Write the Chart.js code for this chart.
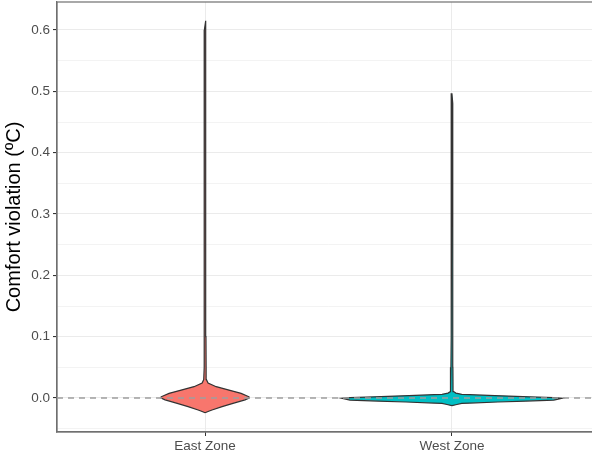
<!DOCTYPE html>
<html>
<head>
<meta charset="utf-8">
<script src="https://cdn.jsdelivr.net/npm/chart.js@4.4.1/dist/chart.umd.min.js"></script>
<style>
  html, body { margin: 0; padding: 0; background: #fff; overflow: hidden; width: 592px; height: 457px; }
  #wrap { position: relative; width: 601px; height: 457px; }
</style>
</head>
<body>
<div id="wrap"><canvas id="violinChart"></canvas></div>
<script>
// categories
const zones = ['East Zone', 'West Zone'];
const zoneColors = ['#F8766D', '#00BFC4'];

// violin outline: y value and half width (in category units)
const eastY  = [-0.024, -0.022, -0.0196, -0.0141, -0.0087, -0.003, 0.0, 0.002, 0.0076, 0.013, 0.0185, 0.0245, 0.03, 0.05, 0.1, 0.2, 0.3, 0.4, 0.5, 0.6, 0.615];
const eastHW = [0, 0.012, 0.028, 0.069, 0.113, 0.162, 0.178, 0.178, 0.146, 0.097, 0.045, 0.012, 0.0055, 0.0042, 0.0036, 0.0035, 0.0035, 0.0035, 0.0033, 0.003, 0];

const westY  = [-0.0125, -0.0106, -0.0087, -0.0082, -0.0065, -0.0049, -0.0033, -0.0005, 0.0005, 0.002, 0.004, 0.0055, 0.006, 0.008, 0.0105, 0.02, 0.05, 0.1, 0.2, 0.3, 0.4, 0.48, 0.497];
const westHW = [0, 0.020, 0.040, 0.073, 0.186, 0.300, 0.413, 0.445, 0.413, 0.316, 0.174, 0.073, 0.040, 0.016, 0.007, 0.0045, 0.004, 0.0036, 0.0035, 0.0035, 0.0034, 0.003, 0];

// y ticks (major every 0.1, minor every 0.05)
const yTicks = [-0.05, 0, 0.05, 0.1, 0.15, 0.2, 0.25, 0.3, 0.35, 0.4, 0.45, 0.5, 0.55, 0.6];

function violinPoints(center, ys, hws) {
    const pts = [];
    for (let i = 0; i < ys.length; i++) pts.push({ x: center + hws[i], y: ys[i] });
    for (let i = ys.length - 1; i >= 0; i--) pts.push({ x: center - hws[i], y: ys[i] });
    return pts;
}

const isMajor = v => Math.abs(v * 10 - Math.round(v * 10)) < 1e-6;

// panel border (right side falls outside the window, as in the original)
const panelBorder = {
    id: 'panelBorder',
    beforeDatasetsDraw(chart) {
        const a = chart.chartArea, c = chart.ctx;
        c.save();
        c.strokeStyle = '#707070';
        c.lineWidth = 1.2;
        c.strokeRect(a.left, a.top, a.right - a.left, a.bottom - a.top);
        c.restore();
    }
};

const ctx = document.getElementById('violinChart').getContext('2d');
new Chart(ctx, {
    type: 'scatter',
    data: {
        datasets: [
            {
                // dashed zero line
                data: [{ x: 0.4, y: 0 }, { x: 2.6, y: 0 }],
                showLine: true,
                borderColor: '#9e9e9e',
                borderWidth: 1.3,
                borderDash: [6, 5],
                pointRadius: 0,
                fill: false
            },
            {
                label: zones[0],
                data: violinPoints(1, eastY, eastHW),
                showLine: true,
                borderColor: '#333333',
                borderWidth: 1.2,
                backgroundColor: zoneColors[0],
                pointRadius: 0,
                fill: 'shape',
                tension: 0
            },
            {
                label: zones[1],
                data: violinPoints(2, westY, westHW),
                showLine: true,
                borderColor: '#333333',
                borderWidth: 1.2,
                backgroundColor: zoneColors[1],
                pointRadius: 0,
                fill: 'shape',
                tension: 0
            }
        ]
    },
    options: {
        responsive: true,
        maintainAspectRatio: false,
        animation: false,
        layout: { padding: { top: 2, right: 1, left: 0, bottom: 0 } },
        plugins: {
            legend: { display: false },
            tooltip: { enabled: false }
        },
        scales: {
            x: {
                type: 'linear',
                min: 0.4,
                max: 2.6,
                afterBuildTicks: s => { s.ticks = [{ value: 1 }, { value: 2 }]; },
                afterFit: s => { s.height = 25; s.paddingLeft = 0; s.paddingRight = 0; },
                ticks: {
                    callback: v => zones[v - 1],
                    color: '#4D4D4D',
                    font: { family: 'Liberation Sans', size: 13.5 },
                    padding: 2,
                    maxRotation: 0
                },
                grid: { color: '#EBEBEB', lineWidth: 1, tickLength: 4, tickColor: '#333333' },
                border: { display: true, color: '#707070', width: 1.2 }
            },
            y: {
                min: -0.0554,
                max: 0.6457,
                afterBuildTicks: s => { s.ticks = yTicks.map(v => ({ value: v })); },
                afterFit: s => { s.width = 57; s.paddingTop = 0; s.paddingBottom = 0; },
                ticks: {
                    callback: v => isMajor(v) ? v.toFixed(1) : '',
                    color: '#4D4D4D',
                    font: { family: 'Liberation Sans', size: 13.5 },
                    padding: 3
                },
                grid: {
                    color: '#EBEBEB',
                    lineWidth: c => isMajor(c.tick.value) ? 1.1 : 0.6,
                    tickLength: 4,
                    tickColor: c => isMajor(c.tick.value) ? '#333333' : 'rgba(0,0,0,0)'
                },
                border: { display: true, color: '#707070', width: 1.2 },
                title: {
                    display: true,
                    text: 'Comfort violation (ºC)',
                    color: '#000',
                    font: { family: 'Liberation Sans', size: 20 },
                    padding: { top: 2, bottom: 0 }
                }
            }
        }
    },
    plugins: [panelBorder]
});
</script>
</body>
</html>
